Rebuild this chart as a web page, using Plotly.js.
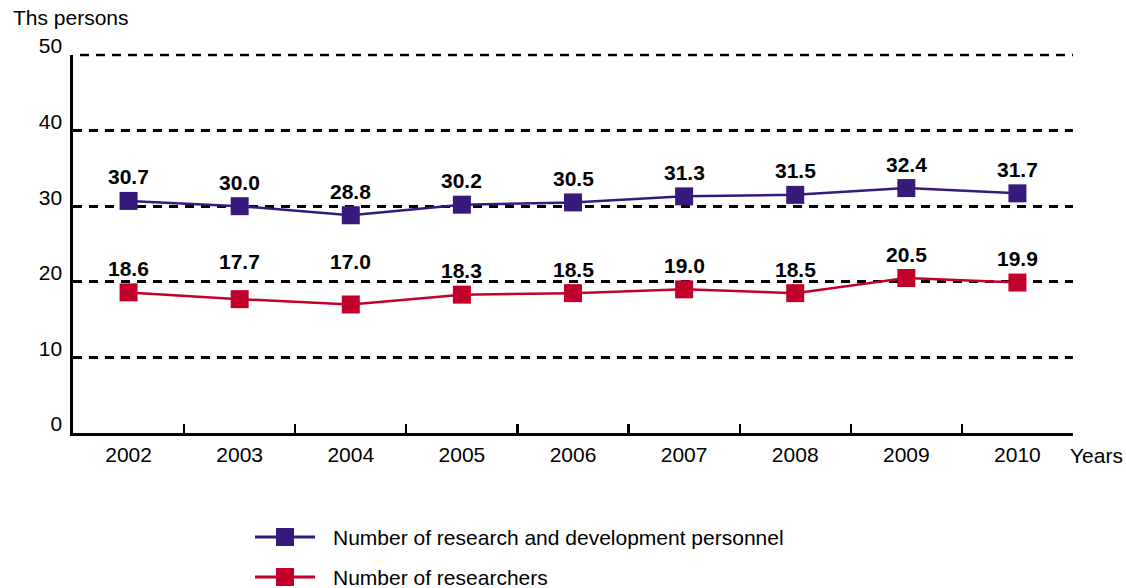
<!DOCTYPE html>
<html>
<head>
<meta charset="utf-8">
<script src="https://cdn.plot.ly/plotly-3.0.1.min.js"></script>
<style>
  html, body { margin: 0; padding: 0; background: #fff; }
  #chart { width: 1126px; height: 588px; }
</style>
</head>
<body>
<div id="chart"></div>
<script>
// Years on the category axis
const years = ['2002', '2003', '2004', '2005', '2006', '2007', '2008', '2009', '2010'];

// Thousands of persons
const rdPersonnel = [30.7, 30.0, 28.8, 30.2, 30.5, 31.3, 31.5, 32.4, 31.7];
const researchers = [18.6, 17.7, 17.0, 18.3, 18.5, 19.0, 18.5, 20.5, 19.9];

const seriesNames = ['Number of research and development personnel', 'Number of researchers'];
const seriesColors = ['#371a7b', '#c2002c'];

const yTicks = [0, 10, 20, 30, 40, 50];
const yMax = 50;

const FONT = 'Liberation Sans, Arial, sans-serif';
const GRID_DASH = '9px,7px';

const plotH = 378;                       // plot height in px
const pxPerUnit = plotH / yMax;
const px2y = p => (433 - p) / plotH;     // pixel row -> paper y
const px2x = p => (p - 73) / 1000;       // pixel column -> paper x

function series(values, name, color) {
  return {
    x: years,
    y: values,
    name: name,
    type: 'scatter',
    mode: 'lines+markers',
    line: { color: color, width: 2.5 },
    marker: { symbol: 'square', size: 18, color: color, line: { width: 0 } },
    cliponaxis: false,
    hoverinfo: 'x+y',
    showlegend: false
  };
}

const traces = [
  series(rdPersonnel, seriesNames[0], seriesColors[0]),
  series(researchers, seriesNames[1], seriesColors[1])
];

const shapes = [];
const annotations = [];

// Value labels: sit above each marker, lifted clear of a gridline they would touch.
// Category positions are given by index so numeric-looking years are not read as numbers.
function valueLabels(values) {
  values.forEach((v, i) => {
    let lift = 24;
    yTicks.forEach(t => {
      const gridAbove = (t - v) * pxPerUnit;        // gridline distance above the marker
      if (gridAbove > 0 && lift > gridAbove - 14 && lift < gridAbove + 8) {
        lift = gridAbove + 20;
      }
    });
    annotations.push({
      x: i, y: v, xref: 'x', yref: 'y',
      yshift: lift, xanchor: 'center', yanchor: 'middle', showarrow: false,
      text: v.toFixed(1),
      font: { family: FONT, size: 21, color: '#000', weight: 'bold' }
    });
  });
}
valueLabels(rdPersonnel);
valueLabels(researchers);

// The top gridline sits on the range edge, so it is drawn as a shape
shapes.push({
  type: 'line', xref: 'paper', yref: 'paper', layer: 'below',
  x0: px2x(80), x1: 1, y0: 1, y1: 1,
  line: { color: '#000', width: 2.7, dash: GRID_DASH }
});

// Legend drawn below the plot: a line sample with a square marker, then the label
const legendRows = [537, 577];
legendRows.forEach((row, i) => {
  shapes.push({
    type: 'line', xref: 'paper', yref: 'paper',
    x0: px2x(255), x1: px2x(315), y0: px2y(row), y1: px2y(row),
    line: { color: seriesColors[i], width: 3 }
  });
  shapes.push({
    type: 'rect', xref: 'paper', yref: 'paper',
    x0: px2x(276), x1: px2x(294), y0: px2y(row + 9), y1: px2y(row - 9),
    fillcolor: seriesColors[i], line: { width: 0 }
  });
  annotations.push({
    xref: 'paper', yref: 'paper', x: px2x(331), y: px2y(row),
    xanchor: 'left', yanchor: 'middle', showarrow: false,
    text: seriesNames[i], font: { family: FONT, size: 21, color: '#000' }
  });
});

annotations.push({
  xref: 'paper', yref: 'paper', x: px2x(11), y: px2y(18),
  xanchor: 'left', yanchor: 'middle', showarrow: false,
  text: 'Ths persons', font: { family: FONT, size: 21, color: '#000' }
});
annotations.push({
  xref: 'paper', yref: 'paper', x: px2x(1068), y: px2y(455),
  xanchor: 'left', yanchor: 'middle', showarrow: false,
  text: 'Years', font: { family: FONT, size: 21, color: '#000' }
});

const layout = {
  width: 1126,
  height: 588,
  margin: { l: 73, r: 53, t: 55, b: 155 },
  paper_bgcolor: '#fff',
  plot_bgcolor: '#fff',
  showlegend: false,
  font: { family: FONT, size: 21, color: '#000' },
  xaxis: {
    type: 'category',
    range: [-0.5, years.length - 0.5],
    showline: true, linecolor: '#000', linewidth: 2.7,
    ticks: 'inside', tickson: 'boundaries', ticklen: 9, tickwidth: 2.2, tickcolor: '#000',
    showgrid: false, zeroline: false,
    tickfont: { family: FONT, size: 21, color: '#000' },
    ticklabelstandoff: 1
  },
  yaxis: {
    range: [0, yMax],
    tickvals: yTicks,
    ticktext: yTicks.map(String),
    showline: true, linecolor: '#000', linewidth: 2.7,
    ticks: 'inside', ticklen: 7, tickwidth: 2.5, tickcolor: '#000',
    showgrid: true, gridcolor: '#000', gridwidth: 2.7, griddash: GRID_DASH,
    zeroline: false,
    tickfont: { family: FONT, size: 21, color: '#000' },
    ticklabelshift: -9,
    ticklabelstandoff: 4
  },
  shapes: shapes,
  annotations: annotations
};

Plotly.newPlot('chart', traces, layout, { displayModeBar: false, staticPlot: true });
</script>
</body>
</html>
